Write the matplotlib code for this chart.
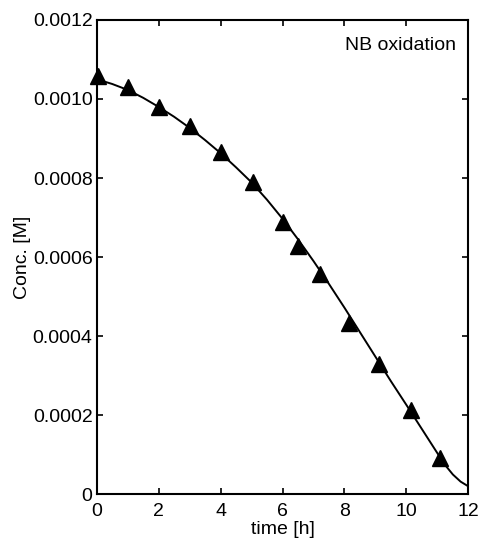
#!/usr/bin/env python3
"""NB oxidation: measured concentration vs time with fitted curve."""
import matplotlib
matplotlib.use("Agg")
import matplotlib.pyplot as plt
from matplotlib.ticker import FuncFormatter

plt.rcParams["font.family"] = ["Liberation Sans", "DejaVu Sans"]

# measured points
t_obs = [0.03, 1.02, 2.01, 3.01, 4.0, 5.04, 6.03, 6.51, 7.21, 8.16, 9.13, 10.15, 11.09]
c_obs = [0.001059, 0.00103, 0.00098, 0.000932, 0.000865, 0.000789, 0.00069,
         0.000627, 0.000558, 0.000434, 0.00033, 0.000212, 0.0000911]

# fitted curve
t_fit = [0, 0.5, 1, 1.5, 2, 2.5, 3, 3.5, 4, 4.5, 5, 5.5, 6, 6.5, 7, 7.5, 8,
         8.5, 9, 9.5, 10, 10.5, 11, 11.25, 11.5, 11.75, 12]
c_fit = [0.00105, 0.001038, 0.001023, 0.001003, 0.00098, 0.000955, 0.000927,
         0.000896, 0.000863, 0.000827, 0.000789, 0.000745, 0.000697, 0.000645,
         0.00059, 0.000532, 0.000472, 0.00041, 0.000348, 0.000286, 0.000226,
         0.000165, 0.000104, 0.000074, 0.00005, 0.000032, 0.00002]

fig = plt.figure(figsize=(4.8, 5.39), dpi=100)
ax = fig.add_axes([0.2015, 0.083, 0.7742, 0.88])

ax.plot(t_fit, c_fit, color="black", lw=1.4)
ax.plot(t_obs, c_obs, ls="none", marker="^", ms=11, color="black", clip_on=False)

ax.set_xlim(0, 12)
ax.set_ylim(0, 0.0012)
ax.set_xticks(range(0, 13, 2))
ax.set_yticks([0, 0.0002, 0.0004, 0.0006, 0.0008, 0.0010, 0.0012])
ax.yaxis.set_major_formatter(FuncFormatter(lambda v, p: "0" if v == 0 else f"{v:.4f}"))
ax.tick_params(direction="in", top=True, right=True, length=4, width=1.2,
               labelsize=14, pad=3)
ax.tick_params(axis="x", pad=6.5)
for s in ax.spines.values():
    s.set_linewidth(1.5)

ax.set_xlabel("time [h]", fontsize=14, labelpad=0.5)
ax.set_ylabel("Conc. [M]", fontsize=14, labelpad=1)
ax.text(0.967, 0.947, "NB oxidation", transform=ax.transAxes, ha="right",
        va="center", fontsize=14)

fig.savefig("out.png", dpi=100)
